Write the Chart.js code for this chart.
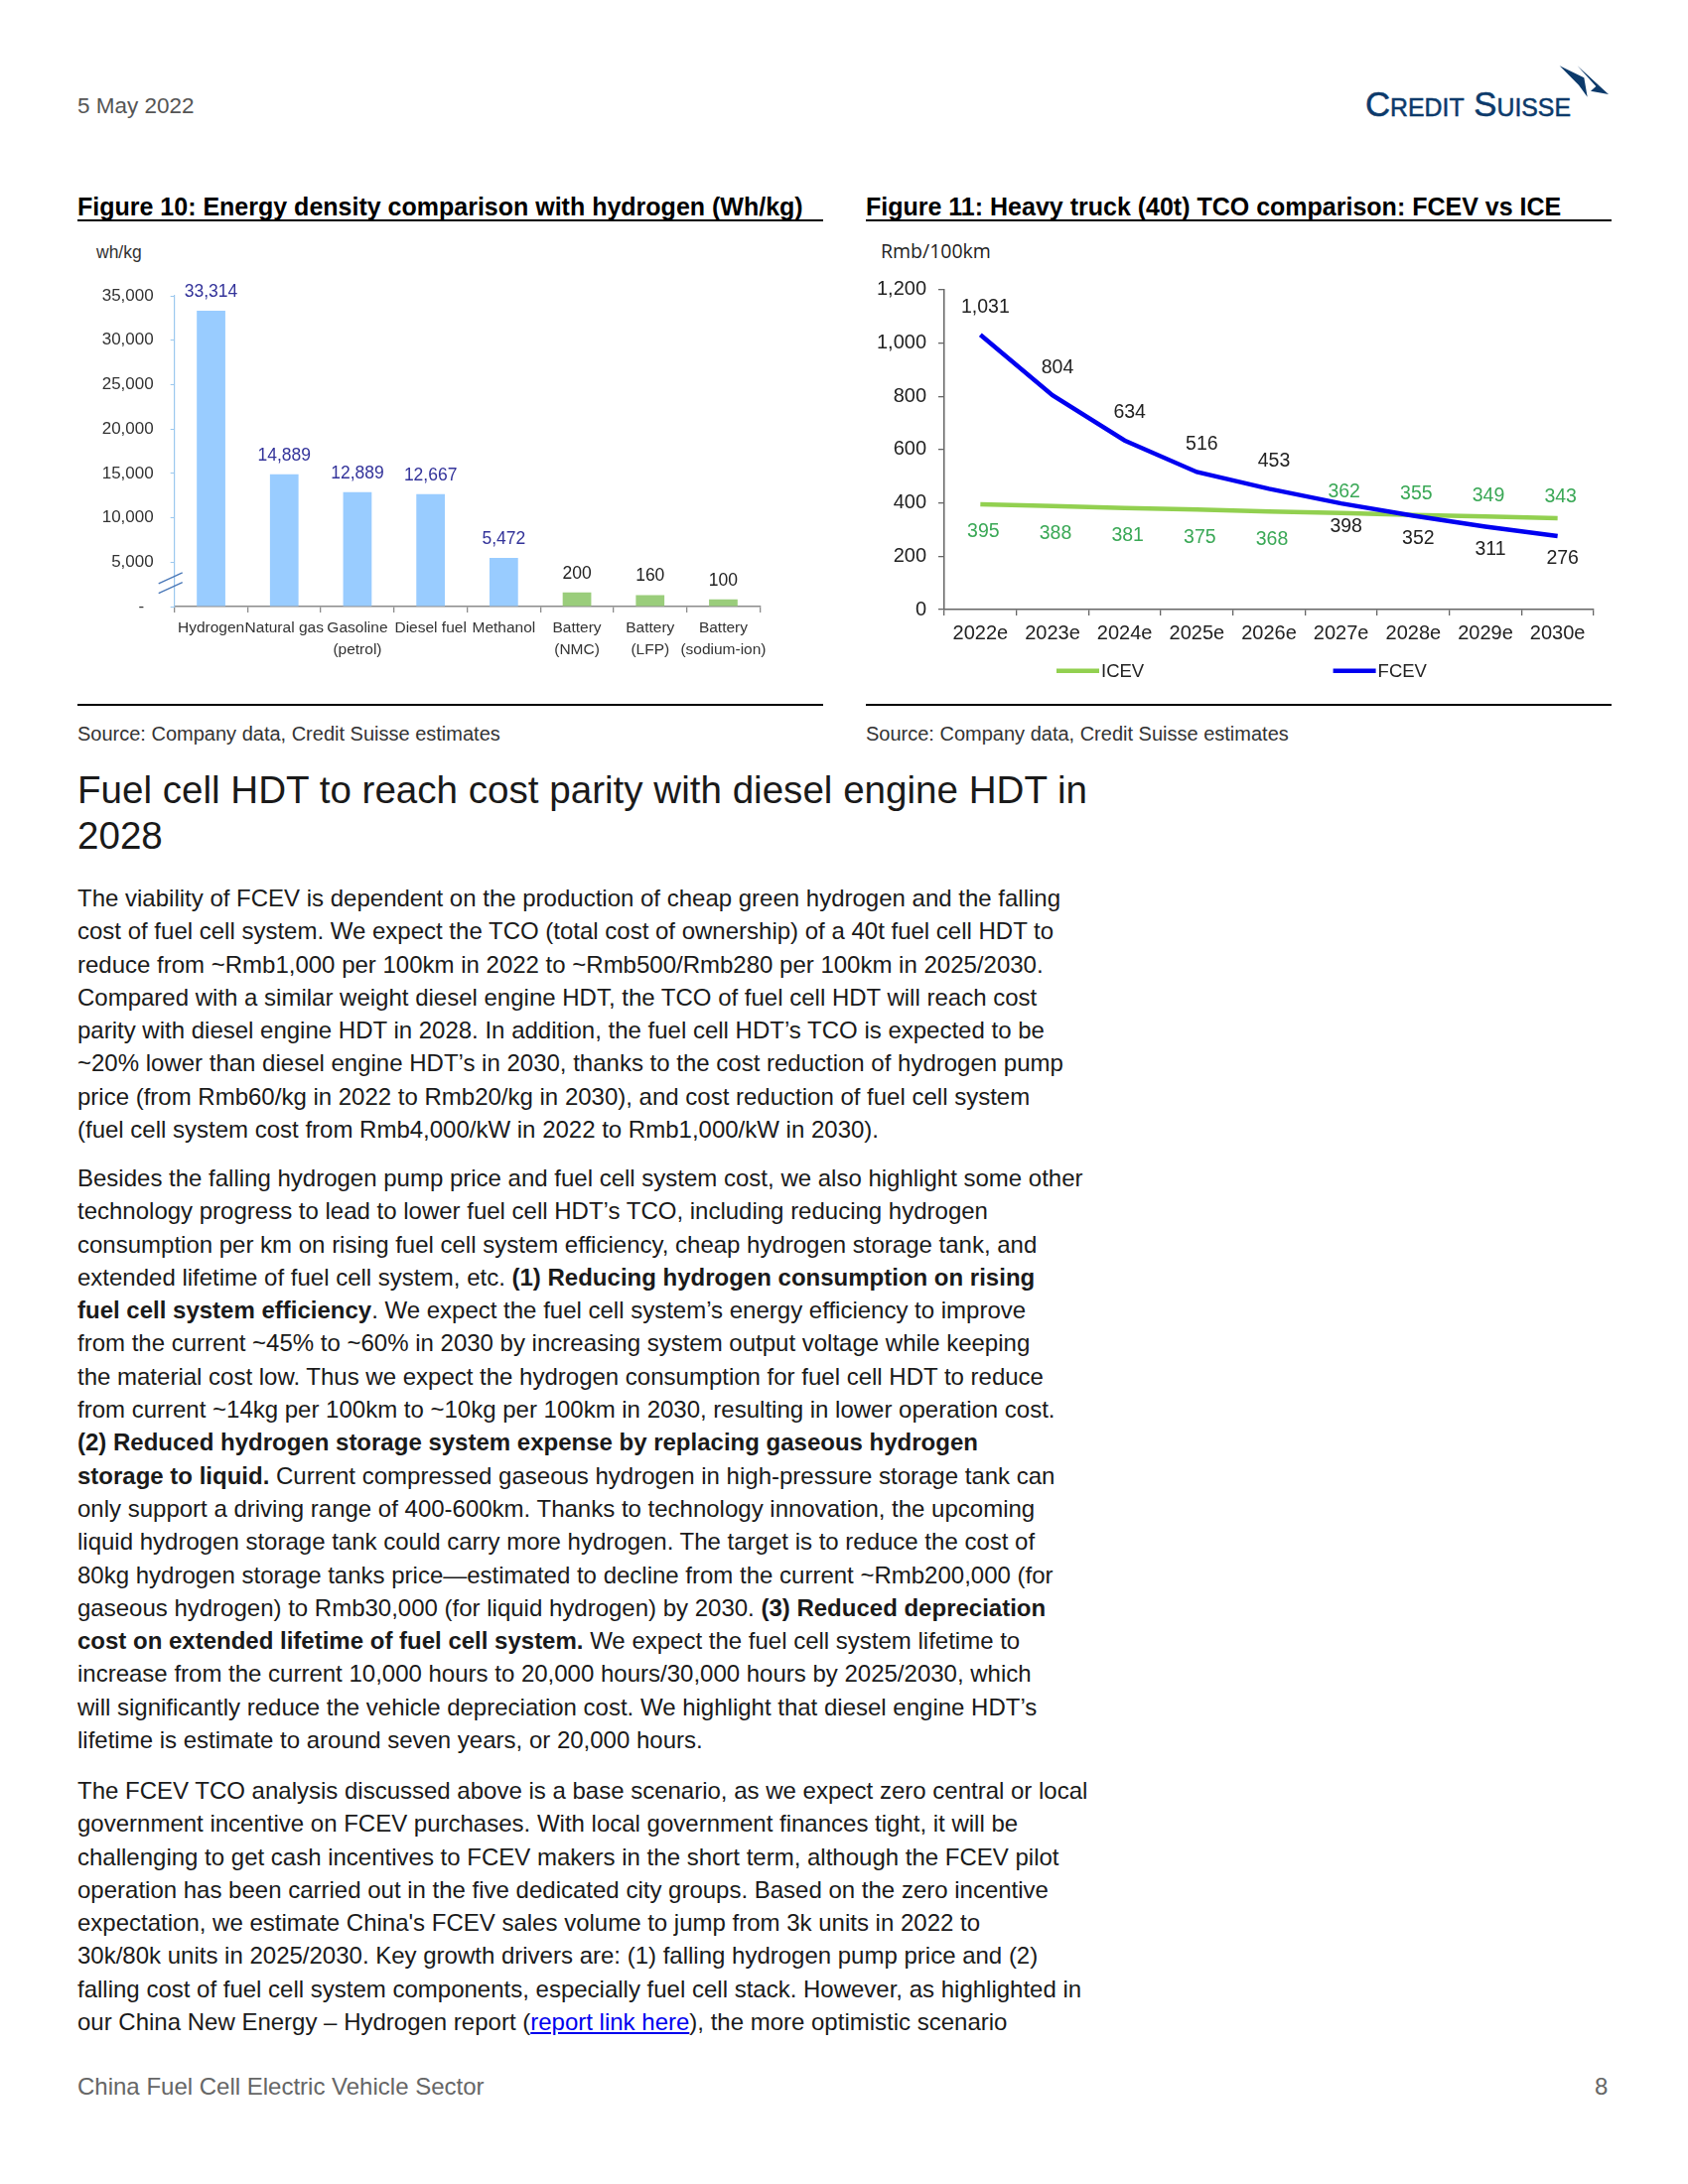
<!DOCTYPE html>
<html>
<head>
<meta charset="utf-8">
<title>China Fuel Cell Electric Vehicle Sector - p.8</title>
<script src="https://cdn.jsdelivr.net/npm/chart.js@4.4.1/dist/chart.umd.min.js"></script>
<style>
  html, body { margin:0; padding:0; background:#fff; }
  body { width:1700px; height:2200px; position:relative; overflow:hidden;
         font-family:"Liberation Sans", Arial, sans-serif; color:#1a1a1a; }
  .abs { position:absolute; white-space:nowrap; }
  .date { left:78px; top:92px; font-size:22.5px; line-height:30px; color:#555; }
  .logo { left:1375px; top:85px; font-size:35px; line-height:40px; color:#0c3a6b;
          font-variant:small-caps; -webkit-text-stroke:0.5px #0c3a6b; transform-origin:left center; }
  .ftitle { top:193px; font-size:25px; line-height:30px; font-weight:bold; color:#000; }
  .rule { position:absolute; background:#000; }
  .src { top:727px; font-size:20px; line-height:24px; color:#333; }
  .unit1 { left:97px; top:243px; font-size:17.5px; line-height:22px; color:#333; }
  .unit2 { left:887px; top:241px; font-size:19.5px; line-height:24px; color:#222; font-family:"Open Sans", "Liberation Sans", sans-serif; }
  canvas { position:absolute; }
  .h2 { left:78px; top:773px; font-size:38.6px; line-height:46px; color:#1a1a1a; }
  .p { left:78px; font-size:24px; line-height:33.3px; color:#1a1a1a; }
  .p b { font-weight:bold; }
  .p a { color:#0000ee; text-decoration:underline; }
  .foot { left:78px; top:2087px; font-size:24px; line-height:30px; color:#666; }
  .pnum { left:1606px; top:2087px; font-size:24px; line-height:30px; color:#666; }
</style>
</head>
<body>

<div class="abs date">5 May 2022</div>
<div class="abs logo" id="logo" data-fit="207">Credit Suisse</div>
<svg class="abs" style="left:1360px;top:55px" width="280" height="80" viewBox="0 0 840 240">
  <polygon points="632,34 706,70 716,128 690,92" fill="#0c3a6b"/>
  <polygon points="686,34 780,120 726,110 742,96" fill="#0c3a6b"/>
</svg>

<!-- Figure 10 -->
<div class="abs ftitle" style="left:78px">Figure 10: Energy density comparison with hydrogen (Wh/kg)</div>
<div class="rule" style="left:78px;top:221px;width:751px;height:1.6px"></div>
<div class="abs unit1">wh/kg</div>
<canvas id="densityChart" width="752" height="470" style="left:78px;top:230px"></canvas>
<div class="rule" style="left:78px;top:708.5px;width:751px;height:2px"></div>
<div class="abs src" style="left:78px">Source: Company data, Credit Suisse estimates</div>

<!-- Figure 11 -->
<div class="abs ftitle" style="left:872px">Figure 11: Heavy truck (40t) TCO comparison: FCEV vs ICE</div>
<div class="rule" style="left:872px;top:221px;width:751px;height:1.6px"></div>
<div class="abs unit2">Rmb/100km</div>
<canvas id="tcoChart" width="751" height="470" style="left:872px;top:230px"></canvas>
<div class="rule" style="left:872px;top:708.5px;width:751px;height:2px"></div>
<div class="abs src" style="left:872px">Source: Company data, Credit Suisse estimates</div>

<div class="abs h2">Fuel cell HDT to reach cost parity with diesel engine HDT in<br>2028</div>

<div class="abs p" style="top:888px">The viability of FCEV is dependent on the production of cheap green hydrogen and the falling<br>cost of fuel cell system. We expect the TCO (total cost of ownership) of a 40t fuel cell HDT to<br>reduce from ~Rmb1,000 per 100km in 2022 to ~Rmb500/Rmb280 per 100km in 2025/2030.<br>Compared with a similar weight diesel engine HDT, the TCO of fuel cell HDT will reach cost<br>parity with diesel engine HDT in 2028. In addition, the fuel cell HDT’s TCO is expected to be<br>~20% lower than diesel engine HDT’s in 2030, thanks to the cost reduction of hydrogen pump<br>price (from Rmb60/kg in 2022 to Rmb20/kg in 2030), and cost reduction of fuel cell system<br>(fuel cell system cost from Rmb4,000/kW in 2022 to Rmb1,000/kW in 2030).</div>

<div class="abs p" style="top:1170px">Besides the falling hydrogen pump price and fuel cell system cost, we also highlight some other<br>technology progress to lead to lower fuel cell HDT’s TCO, including reducing hydrogen<br>consumption per km on rising fuel cell system efficiency, cheap hydrogen storage tank, and<br>extended lifetime of fuel cell system, etc. <b>(1) Reducing hydrogen consumption on rising</b><br><b>fuel cell system efficiency</b>. We expect the fuel cell system’s energy efficiency to improve<br>from the current ~45% to ~60% in 2030 by increasing system output voltage while keeping<br>the material cost low. Thus we expect the hydrogen consumption for fuel cell HDT to reduce<br>from current ~14kg per 100km to ~10kg per 100km in 2030, resulting in lower operation cost.<br><b>(2) Reduced hydrogen storage system expense by replacing gaseous hydrogen</b><br><b>storage to liquid.</b> Current compressed gaseous hydrogen in high-pressure storage tank can<br>only support a driving range of 400-600km. Thanks to technology innovation, the upcoming<br>liquid hydrogen storage tank could carry more hydrogen. The target is to reduce the cost of<br>80kg hydrogen storage tanks price—estimated to decline from the current ~Rmb200,000 (for<br>gaseous hydrogen) to Rmb30,000 (for liquid hydrogen) by 2030. <b>(3) Reduced depreciation</b><br><b>cost on extended lifetime of fuel cell system.</b> We expect the fuel cell system lifetime to<br>increase from the current 10,000 hours to 20,000 hours/30,000 hours by 2025/2030, which<br>will significantly reduce the vehicle depreciation cost. We highlight that diesel engine HDT’s<br>lifetime is estimate to around seven years, or 20,000 hours.</div>

<div class="abs p" style="top:1787px">The FCEV TCO analysis discussed above is a base scenario, as we expect zero central or local<br>government incentive on FCEV purchases. With local government finances tight, it will be<br>challenging to get cash incentives to FCEV makers in the short term, although the FCEV pilot<br>operation has been carried out in the five dedicated city groups. Based on the zero incentive<br>expectation, we estimate China's FCEV sales volume to jump from 3k units in 2022 to<br>30k/80k units in 2025/2030. Key growth drivers are: (1) falling hydrogen pump price and (2)<br>falling cost of fuel cell system components, especially fuel cell stack. However, as highlighted in<br>our China New Energy – Hydrogen report (<a>report link here</a>), the more optimistic scenario</div>

<div class="abs foot">China Fuel Cell Electric Vehicle Sector</div>
<div class="abs pnum">8</div>

<script>
// ── Figure 10: energy density (Wh/kg) ───────────────────────────────────────
const fuelLabels  = [['Hydrogen'], ['Natural gas'], ['Gasoline', '(petrol)'], ['Diesel fuel'],
                     ['Methanol'], ['Battery', '(NMC)'], ['Battery', '(LFP)'], ['Battery', '(sodium-ion)']];
const fuelKind    = ['fuel', 'fuel', 'fuel', 'fuel', 'fuel', 'battery', 'battery', 'battery'];
const densityWhKg = [33314, 14889, 12889, 12667, 5472, 200, 160, 100];
// battery bars sit below the axis break; drawn heights
const densityBar  = [33314, 14889, 12889, 12667, 5472, 1600, 1280, 800];
const densityMax  = 35000;
const densityStep = 5000;

// ── Figure 11: heavy truck TCO (Rmb/100km) ─────────────────────────────────
const tcoYears = ['2022e', '2023e', '2024e', '2025e', '2026e', '2027e', '2028e', '2029e', '2030e'];
const tcoICEV  = [395, 388, 381, 375, 368, 362, 355, 349, 343];
const tcoFCEV  = [1031, 804, 634, 516, 453, 398, 352, 311, 276];
const tcoMax   = 1200;
const tcoStep  = 200;
const icevSide = ['below', 'below', 'below', 'below', 'below', 'above', 'above', 'above', 'above'];
const fcevSide = ['above', 'above', 'above', 'above', 'above', 'below', 'below', 'below', 'below'];

Chart.defaults.font.family = '"Liberation Sans", Arial, sans-serif';
Chart.defaults.animation = false;
Chart.defaults.devicePixelRatio = 1;

const fmt = v => v.toLocaleString('en-US');

// ── value labels drawn next to each mark ────────────────────────────────────
const valueLabels = {
  id: 'valueLabels',
  afterDatasetsDraw(chart) {
    const ctx = chart.ctx;
    chart.data.datasets.forEach((ds, di) => {
      const lab = ds.valueLabels;
      if (!lab) return;
      chart.getDatasetMeta(di).data.forEach((el, i) => {
        const side = lab.side ? lab.side[i] : 'above';
        const y = side === 'above' ? el.y - lab.above : el.y + lab.below;
        ctx.save();
        ctx.font = lab.font;
        ctx.fillStyle = typeof lab.color === 'function' ? lab.color(i) : lab.color;
        ctx.textAlign = 'center';
        ctx.textBaseline = 'middle';
        ctx.fillText(fmt(lab.values[i]), el.x + (lab.dx || 0), y);
        ctx.restore();
      });
    });
  }
};

// ── "//" break marks on the y axis ──────────────────────────────────────────
const axisBreak = {
  id: 'axisBreak',
  afterDraw(chart, args, opts) {
    const ys = chart.scales.y, ctx = chart.ctx, x = chart.chartArea.left;
    ctx.save();
    ctx.strokeStyle = opts.color;
    ctx.lineWidth = 1.4;
    opts.at.forEach(v => {
      const py = ys.getPixelForValue(v);
      ctx.beginPath();
      ctx.moveTo(x - 16, py + 5.5);
      ctx.lineTo(x + 8, py - 5.5);
      ctx.stroke();
    });
    ctx.restore();
  }
};

// ── legend with line samples, spread apart like the source ──────────────────
const lineLegend = {
  id: 'lineLegend',
  afterDraw(chart, args, opts) {
    const ctx = chart.ctx;
    const y = chart.chartArea.bottom + opts.dy;
    ctx.save();
    chart.data.datasets.forEach((ds, i) => {
      const x0 = opts.x[i];
      ctx.strokeStyle = ds.borderColor;
      ctx.lineWidth = ds.borderWidth;
      ctx.beginPath();
      ctx.moveTo(x0, y);
      ctx.lineTo(x0 + 43, y);
      ctx.stroke();
      ctx.fillStyle = '#222';
      ctx.font = opts.font;
      ctx.textAlign = 'left';
      ctx.textBaseline = 'middle';
      ctx.fillText(ds.label, x0 + 45, y + 1);
    });
    ctx.restore();
  }
};

// ── Figure 10 chart ─────────────────────────────────────────────────────────
new Chart(document.getElementById('densityChart'), {
  type: 'bar',
  data: {
    labels: fuelLabels,
    datasets: [{
      label: 'Energy density',
      data: densityBar,
      backgroundColor: fuelKind.map(k => k === 'battery' ? '#9acd7b' : '#99ccff'),
      barPercentage: 0.39,
      categoryPercentage: 1,
      valueLabels: { values: densityWhKg, above: 19, font: '17.5px "Liberation Sans", Arial, sans-serif',
                     color: i => fuelKind[i] === 'battery' ? '#222' : '#33339a' }
    }]
  },
  options: {
    responsive: false,
    layout: { padding: { top: 68, right: 64.7, bottom: 0, left: 0 } },
    plugins: {
      legend: { display: false },
      tooltip: { enabled: false },
      axisBreak: { at: [3200, 2100], color: '#4a78b8' }
    },
    scales: {
      x: {
        grid: { display: true, drawOnChartArea: false, offset: true, tickLength: 6, color: '#8c8c8c', lineWidth: 1.3 },
        border: { display: true, color: '#8c8c8c', width: 1.5 },
        ticks: { color: '#333', font: { size: 15.5, lineHeight: 1.47 }, padding: 4, maxRotation: 0, autoSkip: false },
        afterFit(s) { s.height = 89; }
      },
      y: {
        min: 0, max: densityMax,
        grid: { display: true, drawOnChartArea: false, tickLength: 4, color: '#9cc8ee' },
        border: { display: true, color: '#9cc8ee', width: 1.2 },
        ticks: { stepSize: densityStep, color: '#333', font: { size: 17 }, padding: 17,
                 callback: v => v === 0 ? '-  ' : fmt(v) },
        afterFit(s) { s.width = 97.7; }
      }
    }
  },
  plugins: [valueLabels, axisBreak]
});

// ── Figure 11 chart ─────────────────────────────────────────────────────────
const labelFont = '19.5px "Liberation Sans", Arial, sans-serif';
new Chart(document.getElementById('tcoChart'), {
  type: 'line',
  data: {
    labels: tcoYears,
    datasets: [
      { label: 'ICEV', data: tcoICEV, borderColor: '#92d050', backgroundColor: '#92d050',
        borderWidth: 4.5, pointRadius: 0, tension: 0, order: 1,
        valueLabels: { values: tcoICEV, side: icevSide, above: 21, below: 28, dx: 3, font: labelFont, color: '#3aa856' } },
      { label: 'FCEV', data: tcoFCEV, borderColor: '#0000f0', backgroundColor: '#0000f0',
        borderWidth: 4.5, pointRadius: 0, tension: 0, order: 0,
        valueLabels: { values: tcoFCEV, side: fcevSide, above: 28, below: 23, dx: 5, font: labelFont, color: '#222' } }
    ]
  },
  options: {
    responsive: false,
    layout: { padding: { top: 61.8, right: 18, bottom: 0, left: 0 } },
    plugins: {
      legend: { display: false },
      tooltip: { enabled: false },
      lineLegend: { x: [192, 470.6], dy: 61.7, font: '18.5px "Liberation Sans", Arial, sans-serif' }
    },
    scales: {
      x: {
        offset: true,
        grid: { display: true, drawOnChartArea: false, offset: true, tickLength: 6, color: '#666', lineWidth: 1.3 },
        border: { display: true, color: '#666', width: 1.5 },
        ticks: { color: '#222', font: { size: 20 }, padding: 6, maxRotation: 0, autoSkip: false },
        afterFit(s) { s.height = 86; }
      },
      y: {
        min: 0, max: tcoMax,
        grid: { display: true, drawOnChartArea: false, tickLength: 6, color: '#666', lineWidth: 1.3 },
        border: { display: true, color: '#666', width: 1.5 },
        ticks: { stepSize: tcoStep, color: '#222', font: { size: 20 }, padding: 12, callback: v => fmt(v) },
        afterFit(s) { s.width = 79; }
      }
    }
  },
  plugins: [valueLabels, lineLegend]
});

// squeeze the wordmark to the width it has in the source
document.querySelectorAll('[data-fit]').forEach(el => {
  const w = el.getBoundingClientRect().width;
  el.style.transform = 'scaleX(' + (+el.dataset.fit / w) + ')';
});
</script>
</body>
</html>
